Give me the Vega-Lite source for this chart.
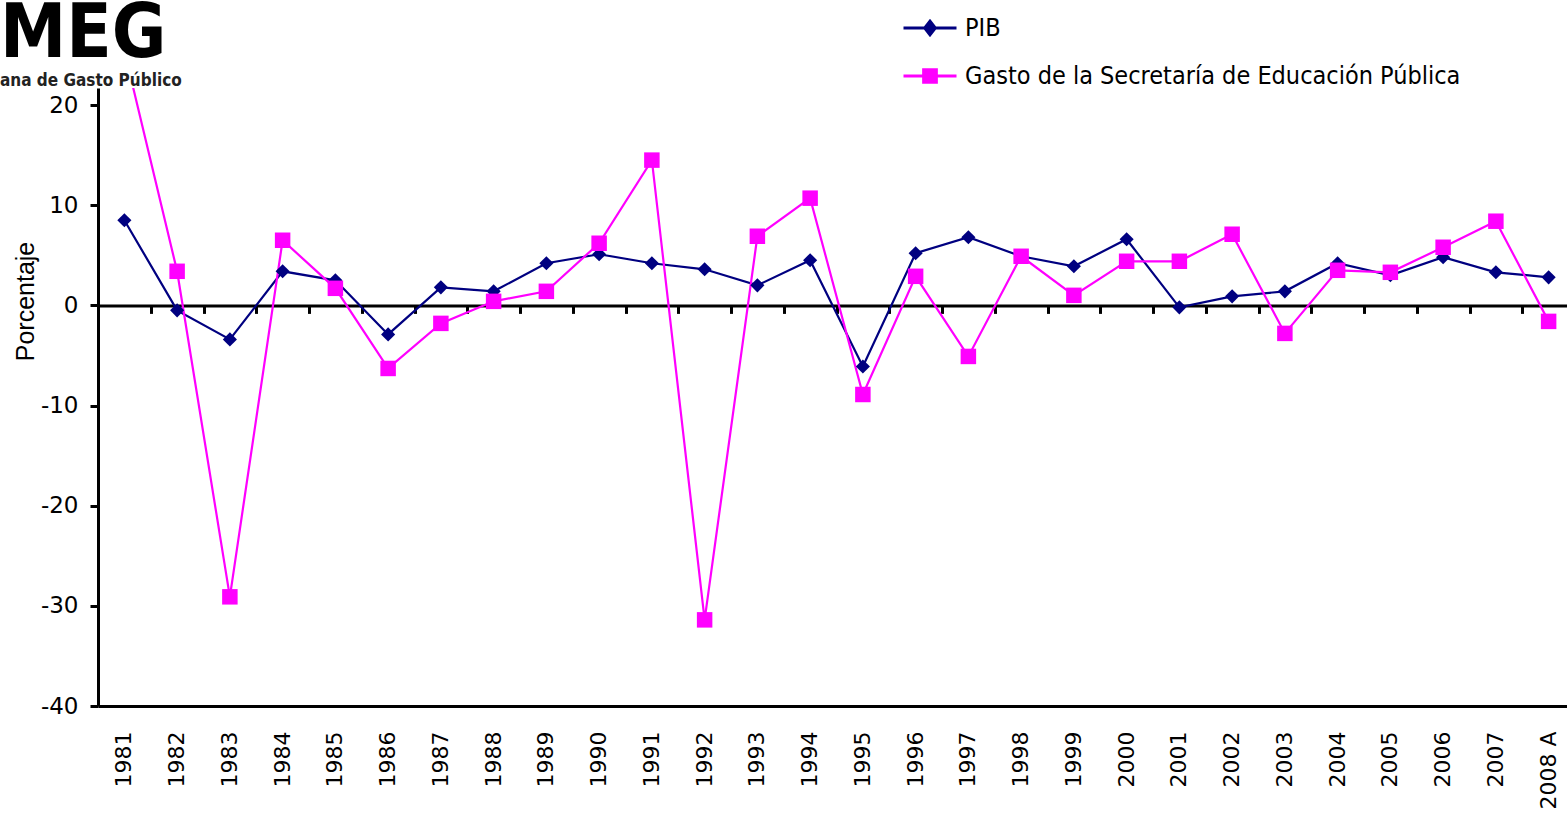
{
  "$schema": "https://vega.github.io/schema/vega-lite/v6.json",
  "width": 1477,
  "height": 618,
  "autosize": {"type": "none"},
  "padding": {"left": 98, "top": 88, "right": 0, "bottom": 113},
  "background": "white",
  "title": {
    "text": "MEG",
    "subtitle": "ana de Gasto Público",
    "anchor": "start",
    "frame": "group",
    "dx": -98,
    "dy": 92,
    "offset": 2,
    "font": "DejaVu Sans Condensed, DejaVu Sans, sans-serif",
    "fontSize": 74,
    "fontWeight": "bold",
    "color": "#000000",
    "subtitleFont": "DejaVu Sans Condensed, DejaVu Sans, sans-serif",
    "subtitleFontSize": 17,
    "subtitleFontWeight": "bold",
    "subtitleColor": "#222222",
    "subtitlePadding": 0
  },
  "config": {"view": {"stroke": null}},
  "data": {
    "values": [
      {"anio": "1981", "serie": "PIB", "valor": 8.5},
      {"anio": "1982", "serie": "PIB", "valor": -0.5},
      {"anio": "1983", "serie": "PIB", "valor": -3.4},
      {"anio": "1984", "serie": "PIB", "valor": 3.4},
      {"anio": "1985", "serie": "PIB", "valor": 2.5},
      {"anio": "1986", "serie": "PIB", "valor": -2.9},
      {"anio": "1987", "serie": "PIB", "valor": 1.8},
      {"anio": "1988", "serie": "PIB", "valor": 1.4},
      {"anio": "1989", "serie": "PIB", "valor": 4.2},
      {"anio": "1990", "serie": "PIB", "valor": 5.1},
      {"anio": "1991", "serie": "PIB", "valor": 4.2},
      {"anio": "1992", "serie": "PIB", "valor": 3.6},
      {"anio": "1993", "serie": "PIB", "valor": 2.0},
      {"anio": "1994", "serie": "PIB", "valor": 4.5},
      {"anio": "1995", "serie": "PIB", "valor": -6.1},
      {"anio": "1996", "serie": "PIB", "valor": 5.2},
      {"anio": "1997", "serie": "PIB", "valor": 6.8},
      {"anio": "1998", "serie": "PIB", "valor": 4.9},
      {"anio": "1999", "serie": "PIB", "valor": 3.9},
      {"anio": "2000", "serie": "PIB", "valor": 6.6},
      {"anio": "2001", "serie": "PIB", "valor": -0.2},
      {"anio": "2002", "serie": "PIB", "valor": 0.9},
      {"anio": "2003", "serie": "PIB", "valor": 1.4},
      {"anio": "2004", "serie": "PIB", "valor": 4.2},
      {"anio": "2005", "serie": "PIB", "valor": 3.0},
      {"anio": "2006", "serie": "PIB", "valor": 4.8},
      {"anio": "2007", "serie": "PIB", "valor": 3.3},
      {"anio": "2008 A", "serie": "PIB", "valor": 2.8},
      {"anio": "1981", "serie": "Gasto de la Secretaría de Educación Pública", "valor": 25.4},
      {"anio": "1982", "serie": "Gasto de la Secretaría de Educación Pública", "valor": 3.4},
      {"anio": "1983", "serie": "Gasto de la Secretaría de Educación Pública", "valor": -29.1},
      {"anio": "1984", "serie": "Gasto de la Secretaría de Educación Pública", "valor": 6.5},
      {"anio": "1985", "serie": "Gasto de la Secretaría de Educación Pública", "valor": 1.7},
      {"anio": "1986", "serie": "Gasto de la Secretaría de Educación Pública", "valor": -6.3},
      {"anio": "1987", "serie": "Gasto de la Secretaría de Educación Pública", "valor": -1.8},
      {"anio": "1988", "serie": "Gasto de la Secretaría de Educación Pública", "valor": 0.4},
      {"anio": "1989", "serie": "Gasto de la Secretaría de Educación Pública", "valor": 1.4},
      {"anio": "1990", "serie": "Gasto de la Secretaría de Educación Pública", "valor": 6.2},
      {"anio": "1991", "serie": "Gasto de la Secretaría de Educación Pública", "valor": 14.5},
      {"anio": "1992", "serie": "Gasto de la Secretaría de Educación Pública", "valor": -31.4},
      {"anio": "1993", "serie": "Gasto de la Secretaría de Educación Pública", "valor": 6.9},
      {"anio": "1994", "serie": "Gasto de la Secretaría de Educación Pública", "valor": 10.7},
      {"anio": "1995", "serie": "Gasto de la Secretaría de Educación Pública", "valor": -8.9},
      {"anio": "1996", "serie": "Gasto de la Secretaría de Educación Pública", "valor": 2.9},
      {"anio": "1997", "serie": "Gasto de la Secretaría de Educación Pública", "valor": -5.1},
      {"anio": "1998", "serie": "Gasto de la Secretaría de Educación Pública", "valor": 4.9},
      {"anio": "1999", "serie": "Gasto de la Secretaría de Educación Pública", "valor": 1.0},
      {"anio": "2000", "serie": "Gasto de la Secretaría de Educación Pública", "valor": 4.4},
      {"anio": "2001", "serie": "Gasto de la Secretaría de Educación Pública", "valor": 4.4},
      {"anio": "2002", "serie": "Gasto de la Secretaría de Educación Pública", "valor": 7.1},
      {"anio": "2003", "serie": "Gasto de la Secretaría de Educación Pública", "valor": -2.8},
      {"anio": "2004", "serie": "Gasto de la Secretaría de Educación Pública", "valor": 3.5},
      {"anio": "2005", "serie": "Gasto de la Secretaría de Educación Pública", "valor": 3.3},
      {"anio": "2006", "serie": "Gasto de la Secretaría de Educación Pública", "valor": 5.8},
      {"anio": "2007", "serie": "Gasto de la Secretaría de Educación Pública", "valor": 8.4},
      {"anio": "2008 A", "serie": "Gasto de la Secretaría de Educación Pública", "valor": -1.6}
    ]
  },
  "encoding": {
    "y": {
      "field": "valor",
      "type": "quantitative",
      "scale": {"domain": [-40, 21.7], "nice": false, "zero": false},
      "axis": {
        "values": [-40, -30, -20, -10, 0, 10, 20],
        "labelExpr": "'' + datum.value",
        "grid": false,
        "domainColor": "#000000",
        "domainWidth": 3,
        "tickColor": "#000000",
        "tickWidth": 3,
        "tickSize": 8,
        "labelFont": "DejaVu Sans",
        "labelFontSize": 23,
        "labelColor": "#000000",
        "labelPadding": 12,
        "title": "Porcentaje",
        "titleFont": "Liberation Sans, Arial, sans-serif",
        "titleFontSize": 25,
        "titleFontWeight": "normal",
        "titleColor": "#000000",
        "titleAngle": -90,
        "titleX": -73,
        "titleY": 213,
        "titleAlign": "center",
        "titleBaseline": "middle"
      }
    },
    "x": {"field": "anio", "type": "ordinal", "sort": null, "axis": null}
  },
  "layer": [
    {
      "mark": {"type": "line", "clip": true, "strokeWidth": 2.2},
      "encoding": {
        "x": {
          "field": "anio",
          "type": "ordinal",
          "sort": null,
          "scale": {"type": "band", "paddingInner": 0, "paddingOuter": 0},
          "axis": {
            "orient": "bottom",
            "title": null,
            "domainColor": "#000000",
            "domainWidth": 3,
            "ticks": false,
            "labelAngle": -90,
            "labelFont": "DejaVu Sans",
            "labelFontSize": 22,
            "labelColor": "#000000",
            "labelPadding": 25
          }
        },
        "color": {
          "field": "serie",
          "type": "nominal",
          "scale": {
            "domain": ["PIB", "Gasto de la Secretaría de Educación Pública"],
            "range": ["#000080", "#FF00FF"]
          },
          "legend": {
            "title": null,
            "orient": "none",
            "legendX": 804,
            "legendY": -88,
            "direction": "vertical",
            "symbolType": "M-1,0L1,0M-0.24,-0.24L0.24,-0.24L0.24,0.24L-0.24,0.24Z",
            "symbolSize": 2809,
            "symbolStrokeWidth": 3,
            "labelFont": "DejaVu Sans Condensed, DejaVu Sans, sans-serif",
            "labelFontSize": 25,
            "labelColor": "#000000",
            "labelOffset": 7,
            "rowPadding": 7,
            "labelLimit": 800,
            "encode": {
              "symbols": {
                "update": {
                  "shape": {"signal": "datum.value === 'PIB' ? 'M-1,0L1,0M0,-0.26L0.2,0L0,0.26L-0.2,0Z' : 'M-1,0L1,0M-0.24,-0.24L0.24,-0.24L0.24,0.24L-0.24,0.24Z'"},
                  "fill": {"signal": "datum.value === 'PIB' ? '#000080' : '#FF00FF'"},
                  "stroke": {"signal": "datum.value === 'PIB' ? '#000080' : '#FF00FF'"},
                  "strokeWidth": {"value": 3},
                  "opacity": {"value": 1}
                }
              }
            }
          }
        }
      }
    },
    {
      "transform": [{"filter": "datum.serie === 'PIB'"}],
      "mark": {"type": "point", "shape": "diamond", "filled": true, "opacity": 1, "size": 200, "color": "#000080", "clip": true}
    },
    {
      "transform": [{"filter": "datum.serie !== 'PIB'"}],
      "mark": {"type": "point", "shape": "square", "filled": true, "opacity": 1, "size": 240, "color": "#FF00FF", "clip": true}
    },
    {
      "mark": {"type": "point", "opacity": 0},
      "encoding": {
        "x": {
          "field": "anio",
          "type": "ordinal",
          "sort": null,
          "axis": {
            "orient": "bottom",
            "offset": -400.6,
            "labels": false,
            "title": null,
            "domainColor": "#000000",
            "domainWidth": 3,
            "tickColor": "#000000",
            "tickWidth": 3,
            "tickSize": 8,
            "tickBand": "extent"
          }
        }
      }
    }
  ],
  "resolve": {"axis": {"x": "independent"}}
}
